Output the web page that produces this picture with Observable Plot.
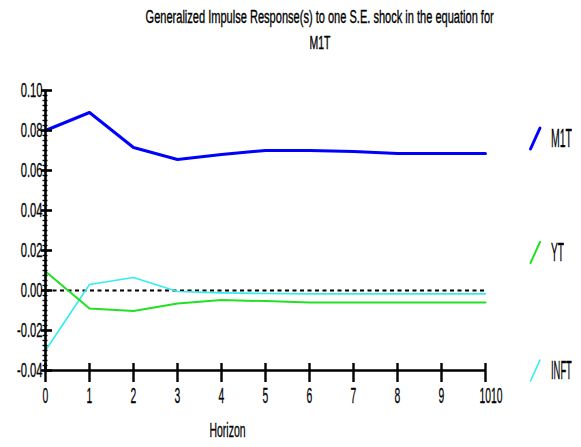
<!DOCTYPE html>
<html><head><meta charset="utf-8">
<script src="https://cdn.jsdelivr.net/npm/d3@7"></script>
<script src="https://cdn.jsdelivr.net/npm/@observablehq/plot@0.6"></script>
<style>
body{margin:0;background:#fff;font-family:"Liberation Sans",Arial,sans-serif;}
#wrap{position:relative;width:581px;height:447px;overflow:hidden;background:#fff;}
#title{position:relative;height:50px;}
.tl{position:absolute;left:0;width:640px;text-align:center;font-size:18px;color:#000;white-space:nowrap;line-height:20px;-webkit-text-stroke:0.35px #000;}
.tl span{display:inline-block;transform-origin:center;}
.leg{position:absolute;left:528px;width:53px;height:24px;}
.leg svg{position:absolute;left:0;top:0;overflow:visible;}
.leg span{position:absolute;left:23px;top:0;font-size:25px;line-height:24px;transform-origin:left center;white-space:nowrap;color:#000;-webkit-text-stroke:0.3px #000;}
#chart svg{display:block;}
</style></head>
<body><div id="wrap">
<div id="title">
  <div class="tl" style="top:7px"><span data-w="348">Generalized Impulse Response(s) to one S.E. shock in the equation for</span></div>
  <div class="tl" style="top:33px"><span data-w="21">M1T</span></div>
</div>
<div id="chart"></div>
</div>
<script>
// ---- data ----
const horizon = [0, 1, 2, 3, 4, 5, 6, 7, 8, 9, 10];
const seriesNames = ["M1T", "YT", "INFT"];
const m1t  = [0.080, 0.089, 0.0715, 0.0655, 0.068, 0.070, 0.070, 0.0695, 0.0685, 0.0685, 0.0685];
const yt   = [0.0095, -0.009, -0.0102, -0.0065, -0.0048, -0.0053, -0.006, -0.006, -0.006, -0.006, -0.006];
const inft = [-0.030, 0.003, 0.0065, -0.0005, -0.0012, -0.0015, -0.0017, -0.0017, -0.0017, -0.0017, -0.0017];
const yTickValues = [-0.04, -0.02, 0.00, 0.02, 0.04, 0.06, 0.08, 0.10];
const xTickValues = [0, 1, 2, 3, 4, 5, 6, 7, 8, 9];
const xLastTick = [10];
const xLabel = "Horizon";

// ---- styles ----
const seriesValues = [m1t, yt, inft];
const seriesColors = ["#0000ff", "#22e022", "#33eeee"];
const seriesWidths = [3, 2, 1.6];
const legendCenters = [138, 252, 370];

const minorTicks = d3.range(0, 57).map(i => -0.04 + i * 0.0025);

const lineMarks = [2, 1, 0].map(j =>
  Plot.lineY(horizon.map((h, i) => ({h, v: seriesValues[j][i]})),
    {x: "h", y: "v", stroke: seriesColors[j], strokeWidth: seriesWidths[j], strokeLinejoin: "round"}));

const chart = Plot.plot({
  width: 581, height: 397,
  marginTop: 40, marginLeft: 45, marginRight: 96, marginBottom: 77,
  x: {domain: [0, 10], axis: null, label: null},
  y: {domain: [-0.04, 0.10], axis: null, label: null},
  style: {fontFamily: "'Liberation Sans', Arial, sans-serif", color: "#000", background: "#fff", overflow: "visible"},
  marks: [
    Plot.ruleY([0], {x1: 0, x2: 10, stroke: "#000", strokeWidth: 2, strokeDasharray: "4,3.5"}),
    ...lineMarks,
    Plot.ruleX([0], {y1: -0.04, y2: 0.10, stroke: "#000", strokeWidth: 2.6}),
    Plot.ruleY([-0.04], {x1: 0, x2: 10, stroke: "#000", strokeWidth: 2.6}),
    Plot.ruleY(minorTicks, {x1: 0, x2: 0, insetLeft: -2.5, insetRight: -2.5, stroke: "#000", strokeWidth: 1.4}),
    Plot.ruleY(yTickValues, {x1: 0, x2: 0, insetLeft: -4, insetRight: -7, stroke: "#000", strokeWidth: 2.6}),
    Plot.ruleX(horizon, {y1: -0.04, y2: -0.04, insetTop: -7, insetBottom: -12, stroke: "#000", strokeWidth: 2.4}),
    Plot.axisY(yTickValues, {label: null, tickSize: 0, tickPadding: 3, fontSize: 20, tickFormat: d => d.toFixed(2)}),
    Plot.axisX(xTickValues, {label: null, tickSize: 0, tickPadding: 17, fontSize: 22, tickFormat: d => String(d)}),
    Plot.axisX(xLastTick, {label: null, tickSize: 0, tickPadding: 17, fontSize: 22, tickFormat: d => String(d) + String(d), textAnchor: "start", dx: -6}),
    Plot.text([xLabel], {text: d => d, frameAnchor: "bottom", dx: -38, dy: 66, fontSize: 21})
  ]
});
document.getElementById("chart").appendChild(chart);

function squeeze(sel, r) {
  chart.querySelectorAll(sel).forEach(t => {
    const w = t.getComputedTextLength();
    t.setAttribute("textLength", (w * r).toFixed(2));
    t.setAttribute("lengthAdjust", "spacingAndGlyphs");
    t.setAttribute("stroke", "#000");
    t.setAttribute("stroke-width", "0.3");
  });
}
squeeze('g[aria-label="y-axis tick label"] text', 0.56);
squeeze('g[aria-label="x-axis tick label"] text', 0.47);
squeeze('g[aria-label="text"] text', 0.5);

// legend
const wrap = document.getElementById("wrap");
const legendLabelWidths = [21, 13, 21];
seriesNames.forEach((name, j) => {
  const d = document.createElement("div");
  d.className = "leg";
  d.style.top = (legendCenters[j] - 12) + "px";
  d.innerHTML = `<svg width="16" height="24"><line x1="2.5" y1="23" x2="12" y2="2" stroke="${seriesColors[j]}" stroke-width="${seriesWidths[j]}" stroke-linecap="round"/></svg><span>${name}</span>`;
  wrap.appendChild(d);
  const s = d.querySelector("span");
  s.style.transform = `scaleX(${legendLabelWidths[j] / s.offsetWidth})`;
});
document.querySelectorAll(".tl span").forEach(s => {
  s.style.transform = `scaleX(${(+s.dataset.w) / s.offsetWidth})`;
});
</script>
</body></html>
